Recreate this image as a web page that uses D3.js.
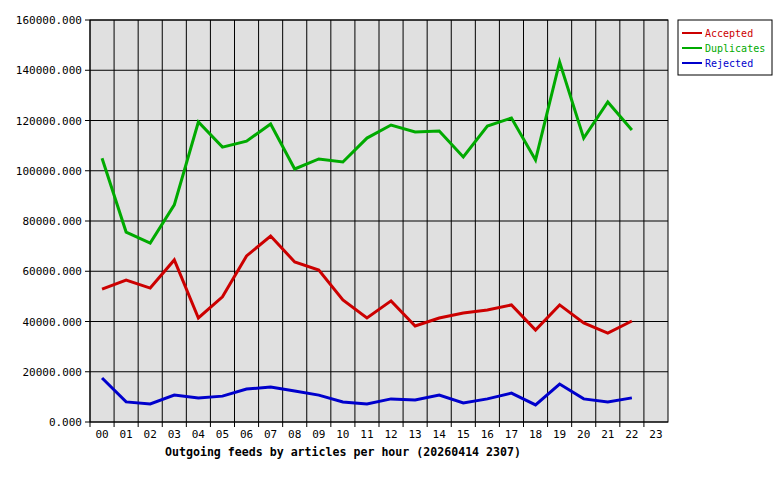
<!DOCTYPE html>
<html><head><meta charset="utf-8">
<script src="https://cdn.jsdelivr.net/npm/d3@7"></script>
<style>body{margin:0;background:#fff}text{font-family:"DejaVu Sans Mono",monospace;font-size:11px}</style>
</head><body><svg id="c" width="780" height="480"></svg>
<script>
var hours = d3.range(24).map(function(h){return (h<10?"0":"")+h;});
var accepted = [52900,56500,53300,64500,41400,49800,66100,74000,63700,60500,48600,41400,48200,38200,41400,43400,44600,46600,36600,46600,39400,35400,40200];
var duplicates = [105000,75600,71200,86400,119400,109400,111800,118600,100700,104700,103500,113000,118200,115400,115800,105500,117800,121000,104300,143300,113000,127400,116200];
var rejected = [17500,8000,7200,10700,9600,10300,13100,13900,12300,10700,8000,7200,9200,8800,10700,7600,9200,11500,6800,15100,9200,8000,9600];
var yTicks = d3.range(0,160001,20000);
var series = [
  {name:"Accepted", color:"#cc0000", values:accepted},
  {name:"Duplicates", color:"#00aa00", values:duplicates},
  {name:"Rejected", color:"#0000cc", values:rejected}
];

var svg = d3.select("#c");
var L=90, R=668, T=20, B=422;
var x = d3.scaleBand().domain(hours).range([L,R]);
var y = d3.scaleLinear().domain([0,160000]).range([B,T]);

svg.append("rect").attr("x",L).attr("y",T).attr("width",R-L).attr("height",B-T).attr("fill","#e0e0e0");
// vertical grid
hours.forEach(function(h){
  svg.append("line").attr("x1",x(h)).attr("x2",x(h)).attr("y1",T).attr("y2",B+5).attr("stroke","#000");
});
yTicks.forEach(function(v){
  svg.append("line").attr("x1",L-5).attr("x2",R).attr("y1",y(v)).attr("y2",y(v)).attr("stroke","#000");
  svg.append("text").attr("x",L-8).attr("y",y(v)+4).attr("text-anchor","end").text(d3.format(".3f")(v));
});
svg.append("rect").attr("x",L).attr("y",T).attr("width",R-L).attr("height",B-T).attr("fill","none").attr("stroke","#000");
hours.forEach(function(h){
  svg.append("text").attr("x",x(h)+x.bandwidth()/2).attr("y",B+16).attr("text-anchor","middle").text(h);
});
svg.append("text").attr("x",343).attr("y",456).attr("text-anchor","middle").attr("font-weight","bold")
  .style("font-size","11.6px").text("Outgoing feeds by articles per hour (20260414 2307)");

var line = d3.line().x(function(d,i){return x(hours[i])+x.bandwidth()/2;}).y(function(d){return y(d);});
series.forEach(function(s){
  svg.append("path").attr("d",line(s.values)).attr("fill","none").attr("stroke",s.color).attr("stroke-width",3);
});

// legend
svg.append("rect").attr("x",678).attr("y",20).attr("width",94).attr("height",55).attr("fill","#fff").attr("stroke","#000");
series.forEach(function(s,i){
  var ly = 33 + i*15;
  svg.append("line").attr("x1",682).attr("x2",702).attr("y1",ly).attr("y2",ly).attr("stroke",s.color).attr("stroke-width",2);
  svg.append("text").attr("x",705).attr("y",ly+4).attr("fill",s.color).style("font-size","10px").text(s.name);
});
</script></body></html>
